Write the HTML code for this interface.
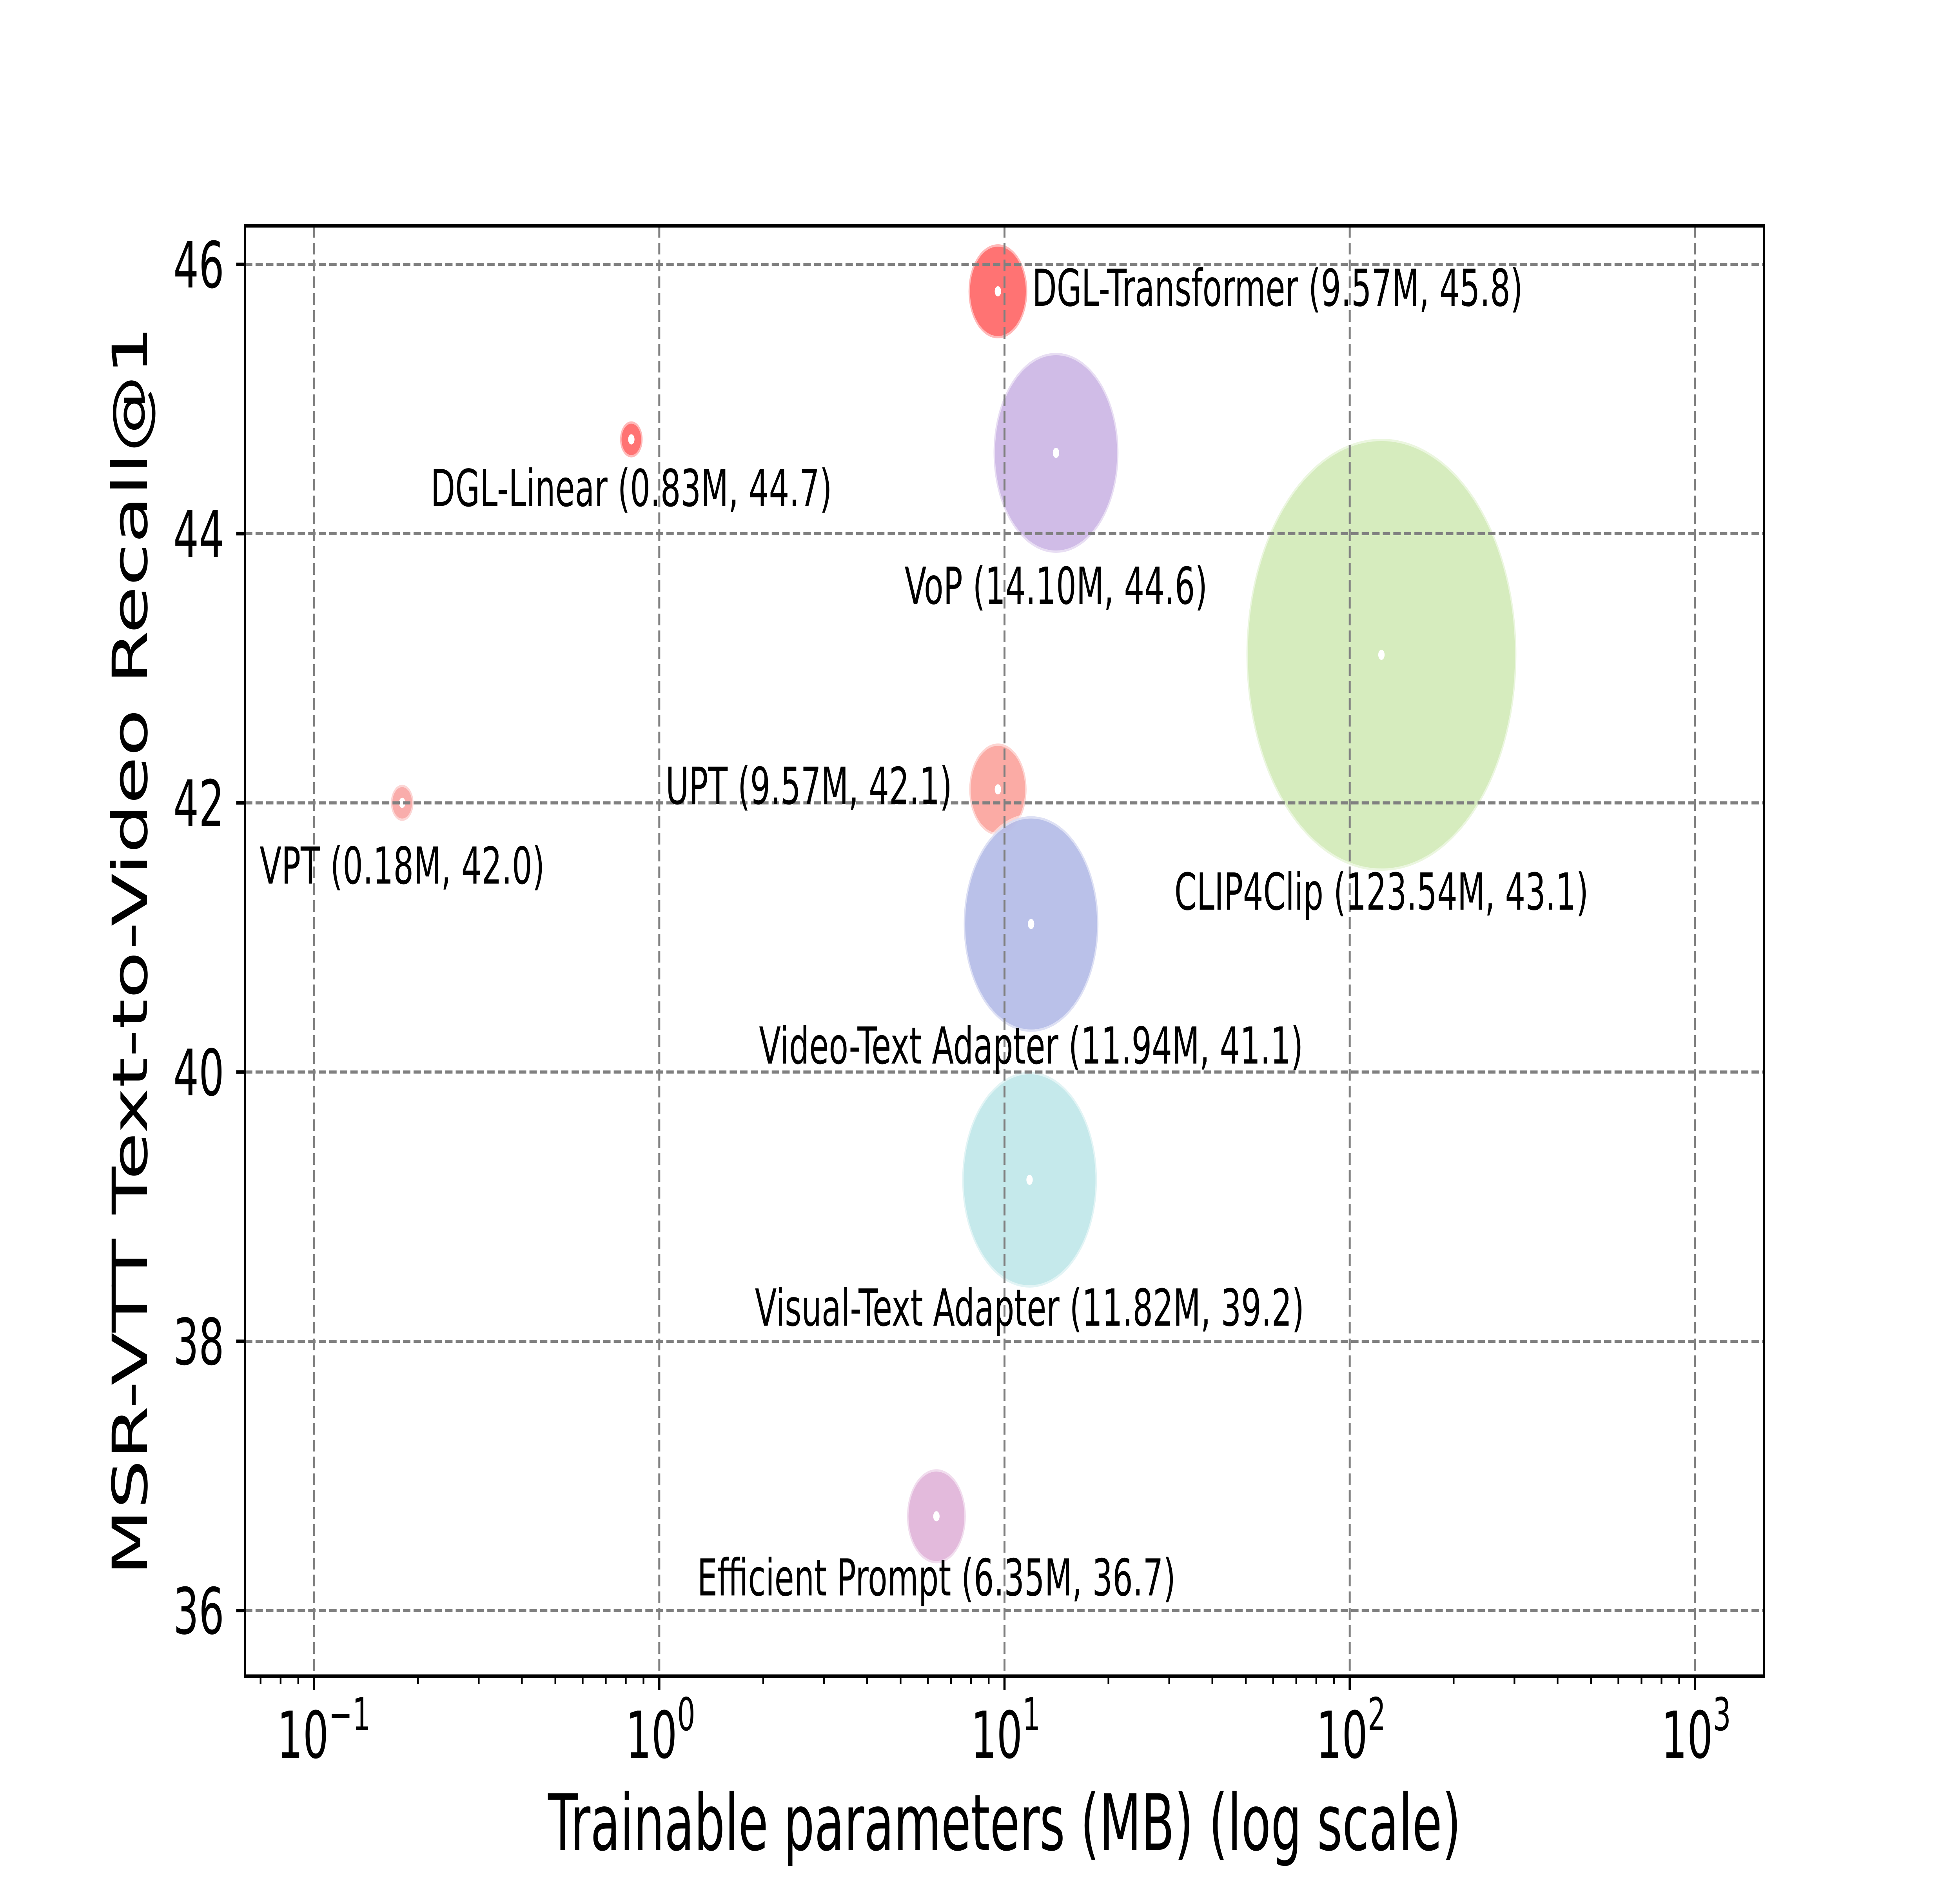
<!DOCTYPE html>
<html><head><meta charset="utf-8"><style>
html,body{margin:0;padding:0;background:#fff;width:100%;height:100%;overflow:hidden}
svg{display:block;width:100vw;height:100vh}
text{font-family:"DejaVu Sans","Liberation Sans",sans-serif;fill:#000}
</style></head><body>
<svg id="chart" viewBox="0 0 8000 4800" preserveAspectRatio="none" xmlns="http://www.w3.org/2000/svg">
<rect x="0" y="0" width="8000" height="4800" fill="#fff"/>
<g id="bubbles"></g>
<g id="grid"></g>
<g id="labels"></g>
<g id="axes"></g>
<text x="4100" y="4718" text-anchor="middle" font-size="198">Trainable parameters (MB) (log scale)</text>
<text transform="translate(600,2425) rotate(-90)" text-anchor="middle" font-size="198">MSR-VTT Text-to-Video Recall@1</text>
</svg>
<script>
const methods = ["DGL-Transformer","DGL-Linear","VoP","CLIP4Clip","UPT","VPT","Video-Text Adapter","Visual-Text Adapter","Efficient Prompt"];
const params = [9.57,0.83,14.10,123.54,9.57,0.18,11.94,11.82,6.35];
const recall = [45.8,44.7,44.6,43.1,42.1,42.0,41.1,39.2,36.7];
const bubbleSize = [120,46,255,551,117,46,275,275,120];
const paramLabels = ["9.57M","0.83M","14.10M","123.54M","9.57M","0.18M","11.94M","11.82M","6.35M"];
const yTicks = [36,38,40,42,44,46];
const xTickExps = [-1,0,1,2,3];
const colors = ["#ff6b6b","#ff6b6b","#cdb8e6","#d4ebbb","#fba6a0","#f9a9a6","#b6bee8","#c2e8ea","#e2b6da"];
const labelDx = [140,0,0,0,-187,0,0,0,0];
const labelDy = [37,170,385,650,37,206,356,372,202];
const labelAnchor = ["start","middle","middle","middle","end","middle","middle","middle","middle"];

const L=1000,R=7200,T=576,B=4275;
const xMinLog=-1.2,xMaxLog=3.2,yMin=35.5125,yMax=46.2863;
function xs(v){return L+(Math.log10(v)-xMinLog)/(xMaxLog-xMinLog)*(R-L);}
function ys(v){return B-(v-yMin)/(yMax-yMin)*(B-T);}
const NS="http://www.w3.org/2000/svg";
function mk(tag,attrs,parent){const e=document.createElementNS(NS,tag);for(const k in attrs)e.setAttribute(k,attrs[k]);parent.appendChild(e);return e;}
const gB=document.getElementById('bubbles'),gG=document.getElementById('grid'),gL=document.getElementById('labels'),gA=document.getElementById('axes');

for(let i=0;i<methods.length;i++){
  const cx=xs(params[i]),cy=ys(recall[i]);
  const c=mk('circle',{cx:cx,cy:cy,r:bubbleSize[i],fill:colors[i],stroke:'#fff','stroke-opacity':0.5,'stroke-width':12,'fill-opacity':0.95},gB);
  
  
  const d=mk('circle',{cx:cx,cy:cy,r:13,fill:'#fff'},gB);
  
  
  const t=mk('text',{x:cx+labelDx[i],y:cy+labelDy[i],'font-size':130,'text-anchor':labelAnchor[i]},gL);
  t.textContent=methods[i]+" ("+paramLabels[i]+", "+recall[i].toFixed(1)+")";
  
  
}
for(const v of yTicks){
  const y=ys(v);
  const g=mk('line',{x1:L,x2:R,y1:y,y2:y,stroke:'#808080','stroke-width':8,'stroke-dasharray':'30 13'},gG);
  
  
  const tk=mk('line',{x1:L-36,x2:L,y1:y,y2:y,stroke:'#000','stroke-width':9},gA);
  
  
  const tl=mk('text',{x:L-85,y:y+59,'font-size':163,'text-anchor':'end'},gA);
  tl.textContent=String(v);
  
  
}
for(const e of xTickExps){
  const x=xs(Math.pow(10,e));
  const g=mk('line',{x1:x,x2:x,y1:T,y2:B,stroke:'#808080','stroke-width':8,'stroke-dasharray':'30 13'},gG);
  
  
  const tk=mk('line',{x1:x,x2:x,y1:B,y2:B+36,stroke:'#000','stroke-width':9},gA);
  
  
  const tl=mk('text',{x:x+(e<0?40:5),y:4483,'font-size':165,'text-anchor':'middle'},gA);
  
  
  const b=document.createElementNS(NS,'tspan');b.textContent='10';tl.appendChild(b);
  const s=document.createElementNS(NS,'tspan');s.setAttribute('dy','-70');s.setAttribute('font-size','116');s.textContent=(e<0?'\u2212':'')+Math.abs(e);tl.appendChild(s);
}
for(let e=-2;e<=3;e++){
  for(let m=2;m<=9;m++){
    const v=m*Math.pow(10,e);const lv=Math.log10(v);
    if(lv<xMinLog||lv>xMaxLog)continue;
    const x=xs(v);
    const mt=mk('line',{x1:x,x2:x,y1:B,y2:B+20,stroke:'#000','stroke-width':7},gA);
    
    
  }
}
const fr=mk('rect',{x:L,y:T,width:R-L,height:B-T,fill:'none',stroke:'#000','stroke-width':9},gA);


</script>
</body></html>
